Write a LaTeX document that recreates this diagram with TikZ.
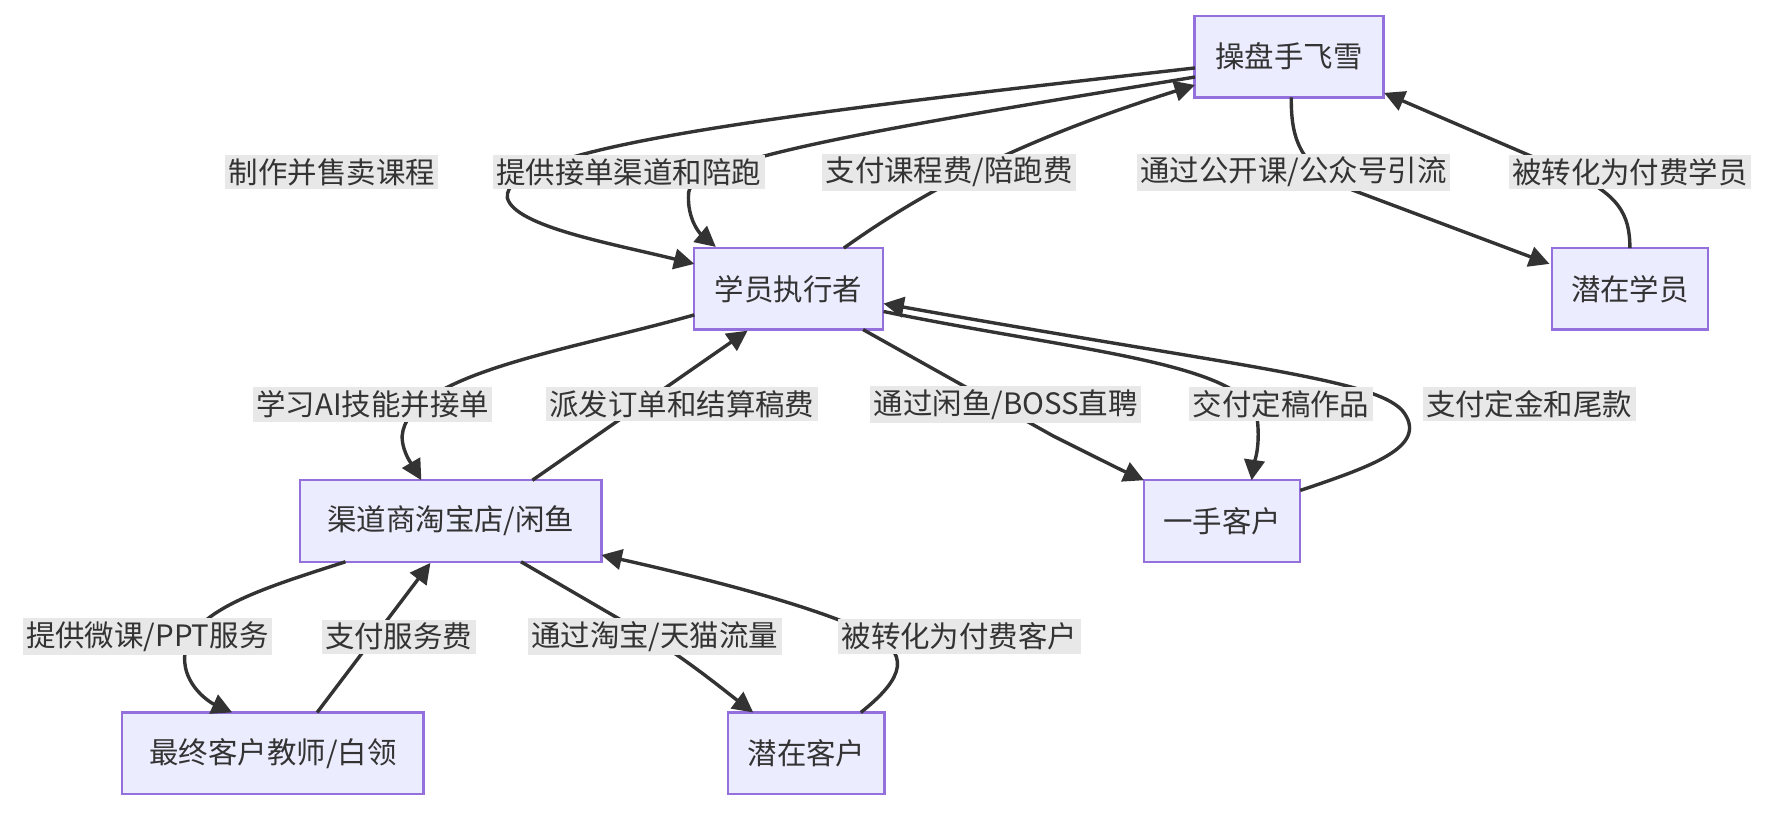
\documentclass[tikz,border=0pt]{standalone}
\usepackage{fontspec}
\setmainfont{Noto Sans CJK SC}
\usetikzlibrary{arrows.meta}
\definecolor{nfill}{HTML}{ECECFF}
\definecolor{nbord}{HTML}{9370DB}
\definecolor{ink}{HTML}{333333}
\definecolor{lbg}{HTML}{E8E8E8}
\begin{document}
\begin{tikzpicture}[x=0.5pt,y=-0.5pt,
  box/.style={draw=nbord,fill=nfill,line width=1pt,minimum height=36pt,inner sep=0pt,text=ink,font=\fontsize{13}{15}\selectfont},
  lab/.style={fill=lbg,inner sep=1.5pt,text=ink,font=\fontsize{13}{15}\selectfont},
  e/.style={draw=ink,line width=1.5pt,-{Triangle[length=9pt,width=9pt]}}]
\useasboundingbox[fill=white] (0,0) rectangle (1568,717);
\node[box,minimum width=83.5pt] (op) at (1138,50) {操盘手飞雪};
\node[box,minimum width=83.5pt] (st) at (696,255) {学员执行者};
\node[box,minimum width=69pt] (ps) at (1439,255) {潜在学员};
\node[box,minimum width=133pt] (ch) at (398,460) {渠道商淘宝店/闲鱼};
\node[box,minimum width=69pt] (fc) at (1079,460) {一手客户};
\node[box,minimum width=133pt] (ec) at (241,665) {最终客户教师/白领};
\node[box,minimum width=69pt] (pc) at (712,665) {潜在客户};
\coordinate (a1) at (1055,60); \coordinate (b1) at (613,233);
\coordinate (a2) at (1055,68); \coordinate (b2) at (632,218);
\draw[e] (a1) .. controls (700,100) and (440,130) .. (448,175) .. controls (455,200) and (540,215) .. (b1);
\draw[e] (a2) .. controls (800,110) and (610,140) .. (608,170) .. controls (606,195) and (620,208) .. (b2);
\draw[e] (745,219) .. controls (800,180) and (880,130) .. (1055,75);
\draw[e] (1140,86) .. controls (1140,120) and (1145,150) .. (1200,170) -- (1368,233);
\draw[e] (1439,219) .. controls (1439,190) and (1430,170) .. (1380,150) -- (1222,82);
\draw[e] (613,278) .. controls (500,310) and (360,330) .. (355,385) .. controls (355,400) and (365,412) .. (372,424);
\draw[e] (470,424) -- (660,292);
\draw[e] (762,291) -- (930,385) .. controls (960,400) and (990,415) .. (1010,424);
\draw[e] (780,275) .. controls (950,310) and (1100,320) .. (1110,370) .. controls (1113,395) and (1107,410) .. (1105,424);
\draw[e] (1148,433) .. controls (1210,412) and (1260,395) .. (1240,365) .. controls (1220,335) and (1100,325) .. (780,268);
\draw[e] (305,496) .. controls (230,520) and (165,540) .. (163,580) .. controls (162,605) and (185,620) .. (205,629);
\draw[e] (280,629) -- (380,497);
\draw[e] (460,496) -- (570,560) .. controls (610,585) and (640,610) .. (665,629);
\draw[e] (760,629) .. controls (790,605) and (810,580) .. (770,560) .. controls (720,535) and (620,510) .. (531,490);
\node[lab] (l1) at (293,152) {制作并售卖课程};
\node[lab] (l2) at (555,152) {提供接单渠道和陪跑};
\node[lab] (l3) at (838,152) {支付课程费/陪跑费};
\node[lab] (l4) at (1142,152) {通过公开课/公众号引流};
\node[lab] (l5) at (1439,152) {被转化为付费学员};
\node[lab] (l6) at (329,357) {学习AI技能并接单};
\node[lab] (l7) at (602,357) {派发订单和结算稿费};
\node[lab] (l8) at (888,357) {通过闲鱼/BOSS直聘};
\node[lab] (l9) at (1131,357) {交付定稿作品};
\node[lab] (l10) at (1350,357) {支付定金和尾款};
\node[lab] (l11) at (130,562) {提供微课/PPT服务};
\node[lab] (l12) at (352,562) {支付服务费};
\node[lab] (l13) at (578,562) {通过淘宝/天猫流量};
\node[lab] (l14) at (847,562) {被转化为付费客户};
\end{tikzpicture}
\end{document}
